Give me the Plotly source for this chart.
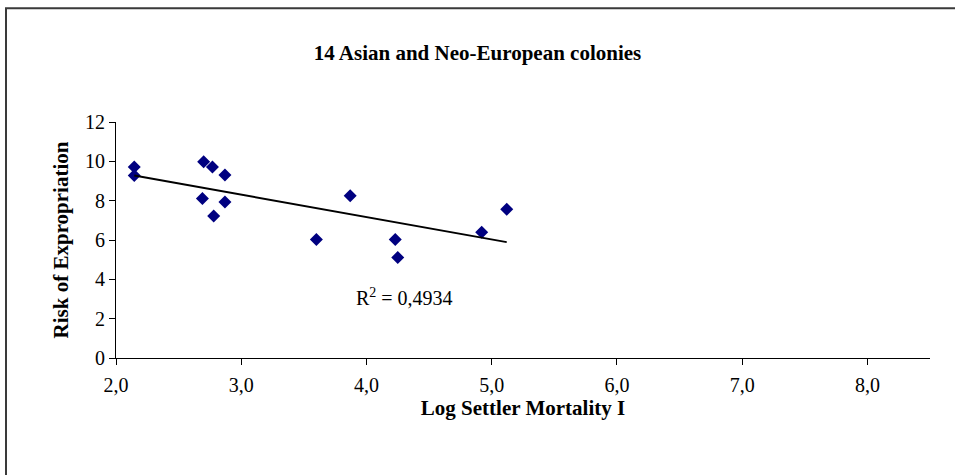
import numpy as np
import plotly.graph_objects as go

# Data
log_mortality = [2.146, 2.146, 2.70, 2.77, 2.87, 2.69, 2.87, 2.78, 3.60, 3.87, 4.23, 4.25, 4.92, 5.12]
expropriation = [9.71, 9.28, 9.98, 9.71, 9.30, 8.11, 7.93, 7.22, 6.03, 8.25, 6.03, 5.11, 6.39, 7.56]
x_ticks = [2, 3, 4, 5, 6, 7, 8]
y_ticks = [0, 2, 4, 6, 8, 10, 12]
r2_text = "R<sup>2</sup> = 0,4934"

xs = np.array(log_mortality)
ys = np.array(expropriation)
slope, intercept = np.polyfit(xs, ys, 1)
line_x = [xs.min(), xs.max()]
line_y = [slope * v + intercept for v in line_x]

FONT = "Liberation Serif, Times New Roman, serif"

fig = go.Figure()
fig.add_trace(go.Scatter(
    x=log_mortality, y=expropriation, mode="markers",
    marker=dict(symbol="diamond", size=10, color="#000080"),
    showlegend=False, hoverinfo="skip"))
fig.add_trace(go.Scatter(
    x=line_x, y=line_y, mode="lines",
    line=dict(color="black", width=2),
    showlegend=False, hoverinfo="skip"))

fig.update_layout(
    width=955, height=475,
    margin=dict(l=116, r=25, t=122, b=117),
    paper_bgcolor="white", plot_bgcolor="white",
    separators=", ",
    font=dict(family=FONT, color="black", size=20),
    title=dict(text="<b>14 Asian and Neo-European colonies</b>",
               x=0.5, xref="container", y=1 - 53 / 475, yref="container",
               xanchor="center", yanchor="middle",
               font=dict(family=FONT, size=21, color="black")),
    xaxis=dict(range=[2, 8.5], tickvals=x_ticks, tickformat=".1f",
               showgrid=False, zeroline=False, showline=True,
               linecolor="black", linewidth=1, ticks="outside", ticklen=6,
               tickcolor="black", tickfont=dict(family=FONT, size=20),
               ticklabelstandoff=3,
               title=dict(text="<b>Log Settler Mortality I</b>", standoff=2,
                          font=dict(family=FONT, size=21))),
    yaxis=dict(range=[0, 12], tickvals=y_ticks,
               showgrid=False, zeroline=False, showline=True,
               linecolor="black", linewidth=1, ticks="outside", ticklen=6,
               tickcolor="black", tickfont=dict(family=FONT, size=20),
               title=dict(text="<b>Risk of Expropriation</b>", standoff=10,
                          font=dict(family=FONT, size=21))),
    annotations=[dict(text=r2_text, x=4.3, y=3.1, xref="x", yref="y",
                      showarrow=False, font=dict(family=FONT, size=20, color="black"))],
    shapes=[dict(type="rect", xref="paper", yref="paper",
                 x0=(6 - 116) / 814, x1=1.2, y0=-1.0, y1=(358.3 - 8.5) / 236,
                 line=dict(color="#3a3a3a", width=2), layer="below")],
)

fig.write_html("out.html")
